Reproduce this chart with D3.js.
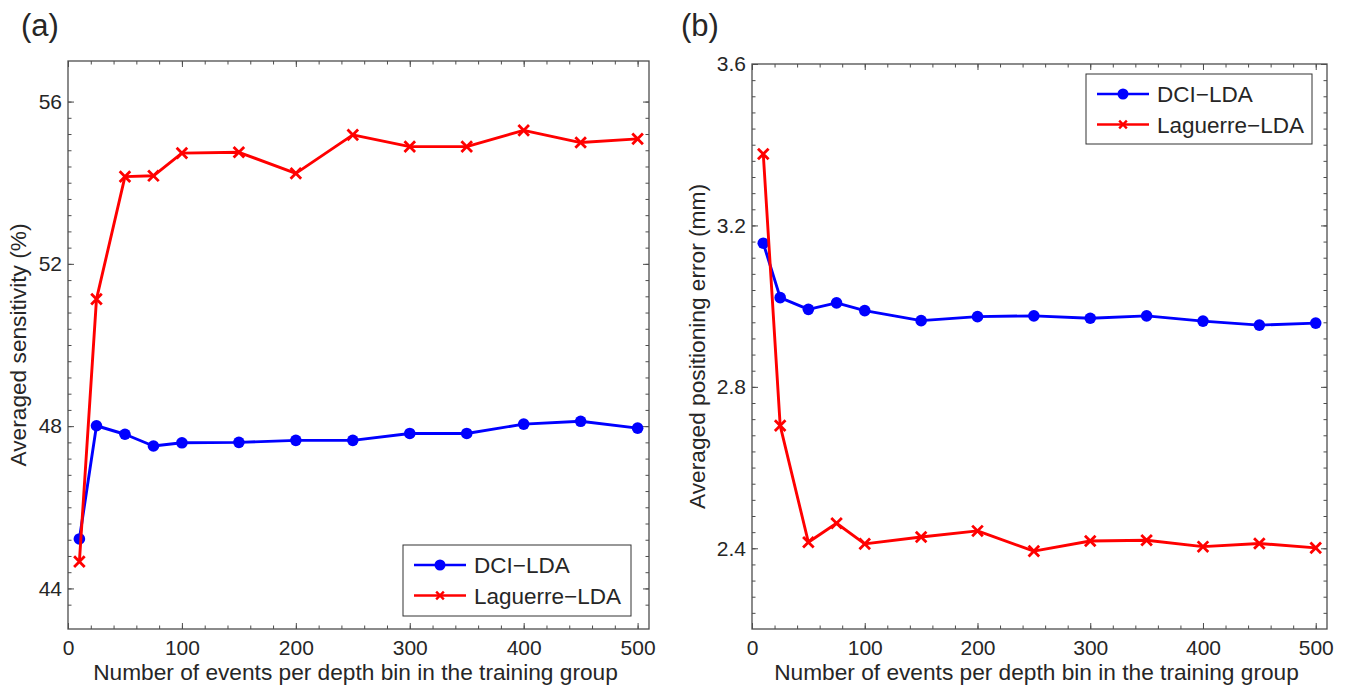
<!DOCTYPE html>
<html>
<head>
<meta charset="utf-8">
<script src="https://cdn.jsdelivr.net/npm/d3@7"></script>
<style>
  body { margin: 0; background: #fff; }
  text { font-family: "Liberation Sans", Arial, sans-serif; fill: #262626; }
</style>
</head>
<body>
<svg id="chart" width="1351" height="688"></svg>
<script>
// events per depth bin (shared x values)
const events = [10, 25, 50, 75, 100, 150, 200, 250, 300, 350, 400, 450, 500];

// panel (a): averaged sensitivity (%)
const sensDCI = [45.22, 48.01, 47.8, 47.51, 47.59, 47.6, 47.65, 47.65, 47.82, 47.82, 48.05, 48.12, 47.95];
const sensLag = [44.66, 51.13, 54.15, 54.17, 54.73, 54.75, 54.23, 55.18, 54.89, 54.89, 55.29, 54.99, 55.08];

// panel (b): averaged positioning error (mm)
const errDCI = [3.156, 3.021, 2.992, 3.008, 2.989, 2.964, 2.974, 2.976, 2.97, 2.976, 2.963, 2.953, 2.958];
const errLag = [3.377, 2.704, 2.415, 2.462, 2.411, 2.428, 2.443, 2.393, 2.418, 2.42, 2.404, 2.412, 2.401];

const xTicks = [0, 100, 200, 300, 400, 500];
const sensTicks = [44, 48, 52, 56];
const errTicks = [2.4, 2.8, 3.2, 3.6];
const seriesNames = ["DCI\u2212LDA", "Laguerre\u2212LDA"];

const svg = d3.select("#chart");
const axisColor = "#4d4d4d";

function drawPanel(opt) {
    let g = svg.append("g");
    let x = d3.scaleLinear().domain([0, 510]).range([opt.left, opt.right]);
    let y = d3.scaleLinear().domain(opt.yDomain).range([opt.bottom, opt.top]);

    // minor ticks
    let xMinor = d3.range(0, 510, 20);
    let yMinor = opt.yMinor;

    let styleAxis = function(sel) {
        sel.select(".domain").remove();
        sel.selectAll("line").attr("stroke", axisColor).attr("stroke-width", 1);
        sel.selectAll("text").style("font-size", "21px").attr("fill", "#262626");
    };

    g.append("g").attr("transform", "translate(0," + opt.bottom + ")")
        .call(d3.axisBottom(x).tickValues(xMinor).tickSize(-3.5).tickFormat(""))
        .call(styleAxis);
    g.append("g").attr("transform", "translate(0," + opt.top + ")")
        .call(d3.axisTop(x).tickValues(xMinor).tickSize(-3.5).tickFormat(""))
        .call(styleAxis);
    g.append("g").attr("transform", "translate(" + opt.left + ",0)")
        .call(d3.axisLeft(y).tickValues(yMinor).tickSize(-3.5).tickFormat(""))
        .call(styleAxis);
    g.append("g").attr("transform", "translate(" + opt.right + ",0)")
        .call(d3.axisRight(y).tickValues(yMinor).tickSize(-3.5).tickFormat(""))
        .call(styleAxis);

    // major ticks
    g.append("g").attr("transform", "translate(0," + opt.bottom + ")")
        .call(d3.axisBottom(x).tickValues(xTicks).tickSize(-6).tickPadding(11).tickFormat(d3.format("d")))
        .call(styleAxis);
    g.append("g").attr("transform", "translate(0," + opt.top + ")")
        .call(d3.axisTop(x).tickValues(xTicks).tickSize(-6).tickFormat(""))
        .call(styleAxis);
    g.append("g").attr("transform", "translate(" + opt.left + ",0)")
        .call(d3.axisLeft(y).tickValues(opt.yTicks).tickSize(-6).tickPadding(6).tickFormat(opt.yFormat))
        .call(styleAxis);
    g.append("g").attr("transform", "translate(" + opt.right + ",0)")
        .call(d3.axisRight(y).tickValues(opt.yTicks).tickSize(-6).tickFormat(""))
        .call(styleAxis);

    // frame
    g.append("rect")
        .attr("x", opt.left).attr("y", opt.top)
        .attr("width", opt.right - opt.left).attr("height", opt.bottom - opt.top)
        .attr("fill", "none").attr("stroke", axisColor).attr("stroke-width", 1.3);

    let line = d3.line().x(d => x(d[0])).y(d => y(d[1]));

    function drawSeries(vals, color, marker) {
        let pts = events.map((e, i) => [e, vals[i]]);
        g.append("path").datum(pts)
            .attr("d", line)
            .attr("fill", "none")
            .attr("stroke", color)
            .attr("stroke-width", 2.9)
            .attr("stroke-linejoin", "round");
        if (marker == "circle") {
            g.selectAll(null).data(pts).enter().append("circle")
                .attr("cx", d => x(d[0])).attr("cy", d => y(d[1]))
                .attr("r", 5.8).attr("fill", color);
        } else {
            g.selectAll(null).data(pts).enter().append("path")
                .attr("transform", d => "translate(" + x(d[0]) + "," + y(d[1]) + ")")
                .attr("d", d3.symbol(d3.symbolX, 75))
                .attr("fill", "none").attr("stroke", color).attr("stroke-width", 2.8);
        }
    }
    drawSeries(opt.dci, "#0000ff", "circle");
    drawSeries(opt.lag, "#ff0000", "x");

    // labels
    g.append("text")
        .attr("x", (opt.left + opt.right) / 2 - 3).attr("y", 680)
        .attr("text-anchor", "middle").style("font-size", "22.7px")
        .text("Number of events per depth bin in the training group");
    g.append("text")
        .attr("transform", "translate(" + opt.yLabelX + "," + ((opt.top + opt.bottom) / 2) + ") rotate(-90)")
        .attr("text-anchor", "middle").style("font-size", "22.7px")
        .text(opt.yLabel);
    g.append("text")
        .attr("x", opt.tagX).attr("y", 36)
        .style("font-size", "31px")
        .text(opt.tag);

    // legend
    let L = opt.legend;
    g.append("rect")
        .attr("x", L.x).attr("y", L.y).attr("width", L.w).attr("height", L.h)
        .attr("fill", "#fff").attr("stroke", "#333").attr("stroke-width", 1);
    let colors = ["#0000ff", "#ff0000"];
    seriesNames.forEach(function(name, i) {
        let cy = L.y + 20 + i * 30.5;
        let x0 = L.x + 11, x1 = L.x + 63, xm = (x0 + x1) / 2;
        g.append("line").attr("x1", x0).attr("x2", x1).attr("y1", cy).attr("y2", cy)
            .attr("stroke", colors[i]).attr("stroke-width", 2.6);
        if (i == 0) {
            g.append("circle").attr("cx", xm).attr("cy", cy).attr("r", 5.5).attr("fill", colors[i]);
        } else {
            g.append("path").attr("transform", "translate(" + xm + "," + cy + ")")
                .attr("d", d3.symbol(d3.symbolX, 40))
                .attr("fill", "none").attr("stroke", colors[i]).attr("stroke-width", 2.4);
        }
        g.append("text").attr("x", L.x + 71).attr("y", cy + 8)
            .style("font-size", "22.5px").text(name);
    });
}

drawPanel({
    left: 68, right: 649, top: 61, bottom: 629,
    yDomain: [43, 57], yTicks: sensTicks, yFormat: d3.format("d"),
    yMinor: d3.range(0, 32).map(k => 43.6 + k * 0.4).filter(v => v < 56.1),
    dci: sensDCI, lag: sensLag,
    yLabel: "Averaged sensitivity (%)", yLabelX: 26,
    tag: "(a)", tagX: 21,
    legend: { x: 403, y: 545, w: 228, h: 71 }
});

drawPanel({
    left: 752, right: 1327, top: 64, bottom: 629,
    yDomain: [2.2, 3.6], yTicks: errTicks, yFormat: d3.format(".1f"),
    yMinor: d3.range(0, 35).map(k => 2.24 + k * 0.04).filter(v => v < 3.59),
    dci: errDCI, lag: errLag,
    yLabel: "Averaged positioning error (mm)", yLabelX: 705,
    tag: "(b)", tagX: 681,
    legend: { x: 1086, y: 74, w: 226, h: 70 }
});
</script>
</body>
</html>
